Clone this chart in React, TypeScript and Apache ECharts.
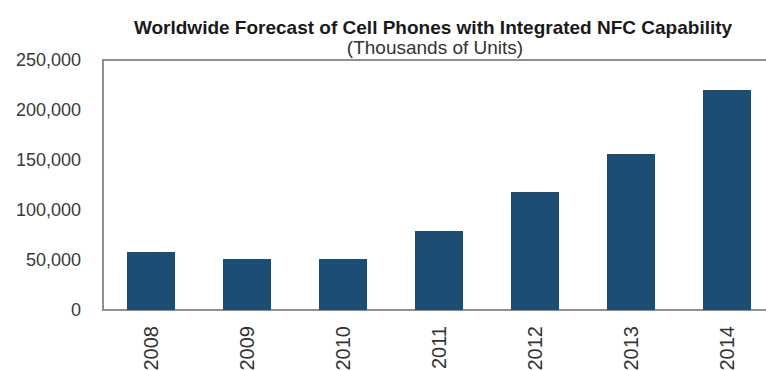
import React, { useEffect, useRef } from "react";
import * as echarts from "echarts";

const TITLE = "Worldwide Forecast of Cell Phones with Integrated NFC Capability";
const SUBTITLE = "(Thousands of Units)";
const years = ["2008", "2009", "2010", "2011", "2012", "2013", "2014"];
const units = [58000, 51000, 51000, 79000, 118000, 156000, 220000];
const yTicks = [0, 50000, 100000, 150000, 200000, 250000];

const fmt = (v: number) => v.toLocaleString("en-US");

export default function App() {
  const ref = useRef<HTMLDivElement>(null);
  useEffect(() => {
    if (!ref.current) return;
    const chart = echarts.init(ref.current, null, { renderer: "svg" });
    chart.setOption({
      animation: false,
      backgroundColor: "#ffffff",
      title: [
        {
          text: TITLE,
          left: 428,
          top: 13,
          textAlign: "center",
          textStyle: {
            fontFamily: "Liberation Sans",
            fontSize: 19,
            fontWeight: "bold",
            color: "#1a1a1a",
          },
        },
        {
          text: SUBTITLE,
          left: 430,
          top: 33,
          textAlign: "center",
          textStyle: {
            fontFamily: "Liberation Sans",
            fontSize: 19,
            fontWeight: "normal",
            color: "#333",
          },
        },
      ],
      grid: {
        left: 103,
        top: 60,
        width: 672,
        height: 250,
        containLabel: false,
        outerBoundsMode: "none",
        show: true,
        borderColor: "#8f8f8f",
        borderWidth: 2,
        backgroundColor: "transparent",
      },
      xAxis: {
        type: "category",
        data: years,
        axisLine: { show: true, lineStyle: { color: "#8f8f8f", width: 2 } },
        axisTick: { show: false },
        axisLabel: {
          rotate: 90,
          margin: 16,
          fontFamily: "Liberation Sans",
          fontSize: 20,
          color: "#333",
        },
      },
      yAxis: {
        type: "value",
        min: yTicks[0],
        max: yTicks[yTicks.length - 1],
        interval: yTicks[1] - yTicks[0],
        axisLine: { show: true, lineStyle: { color: "#8f8f8f", width: 2 } },
        axisTick: { show: false },
        splitLine: { show: false },
        axisLabel: {
          margin: 22,
          fontFamily: "Liberation Sans",
          fontSize: 18,
          color: "#3a3a3a",
          formatter: (v: number) => fmt(v),
        },
      },
      series: [
        {
          type: "bar",
          data: units,
          barWidth: 48,
          itemStyle: { color: "#1c4d74" },
        },
      ],
    });
    return () => chart.dispose();
  }, []);
  return (
    <div
      ref={ref}
      style={{ position: "fixed", left: 0, top: 0, width: 766, height: 370 }}
    />
  );
}
